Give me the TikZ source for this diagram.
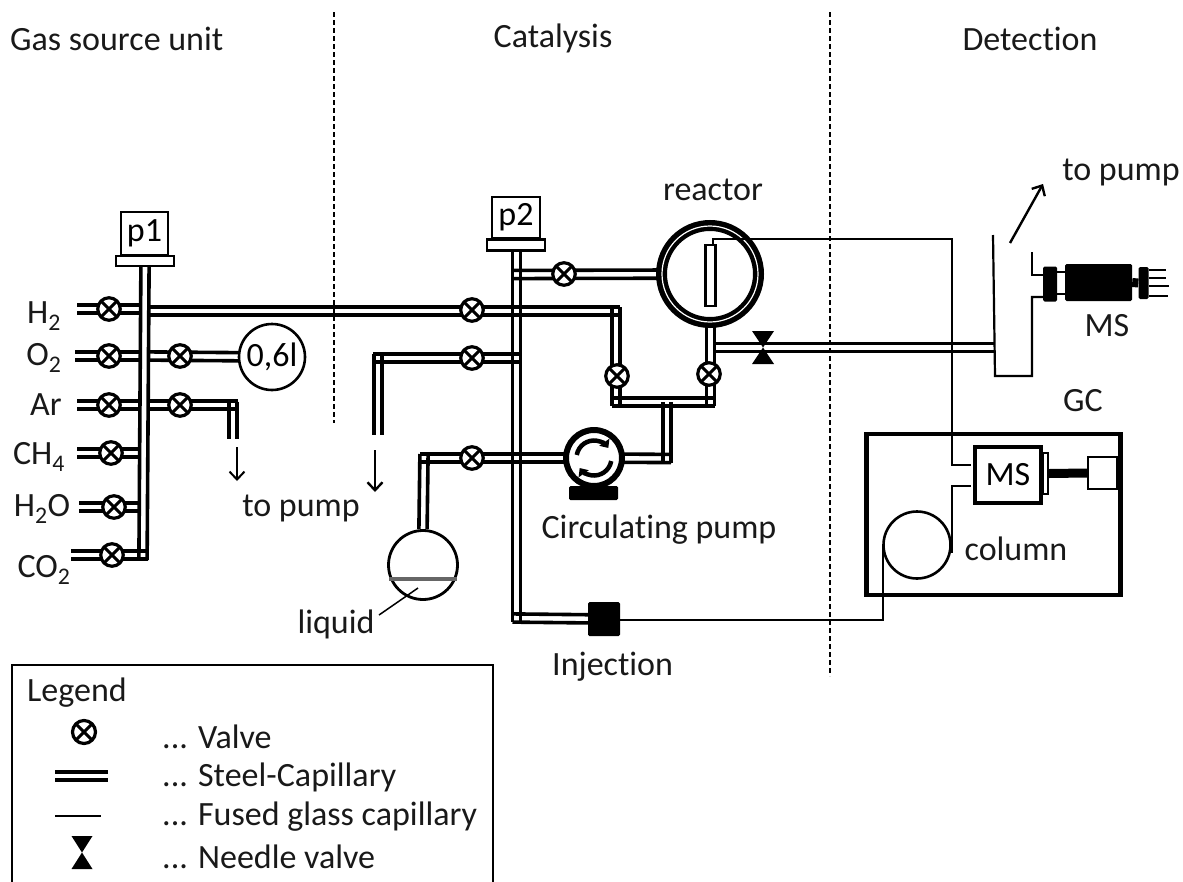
\documentclass[tikz,border=0pt]{standalone}
\usepackage{fontspec}
\setmainfont[Ligatures={NoCommon}]{Carlito}
\usetikzlibrary{arrows.meta,backgrounds,calc}
\tikzset{
  x=1pt,y=-1pt,
  hpipe/.style={line width=3.6pt,draw=none,
    postaction={draw=black,transform canvas={yshift=4.1pt}},
    postaction={draw=black,transform canvas={yshift=-4.1pt}}},
  vpipe/.style={line width=3.6pt,draw=none,
    postaction={draw=black,transform canvas={xshift=4.1pt}},
    postaction={draw=black,transform canvas={xshift=-4.1pt}}},
  fused/.style={draw=black,line width=2.2pt},
  valve/.style={circle,draw=black,fill=white,line width=3.2pt,minimum size=22.5pt,inner sep=0pt,
    path picture={\draw[line width=3pt]
      ($(path picture bounding box.north west)!0.15!(path picture bounding box.south east)$) --
      ($(path picture bounding box.north west)!0.85!(path picture bounding box.south east)$)
      ($(path picture bounding box.north east)!0.15!(path picture bounding box.south west)$) --
      ($(path picture bounding box.north east)!0.85!(path picture bounding box.south west)$);}},
  needle/.style={inner sep=0pt,minimum width=22pt,minimum height=33pt,
    path picture={\fill[black]
      (path picture bounding box.north west) -- (path picture bounding box.north east)
      -- (path picture bounding box.south west) -- (path picture bounding box.south east) -- cycle;}},
  lbl/.style={font=\fontsize{34}{34}\selectfont,inner sep=0pt,text=black!90},
  gauge/.style={draw=black,fill=white,line width=2.8pt,inner sep=0pt,font=\fontsize{34}{34}\selectfont},
  flange/.style={draw=black,fill=white,line width=2.8pt,inner sep=0pt},
  solid block/.style={fill=black,draw=none,rounded corners=1.5pt,inner sep=0pt},
  divider/.style={draw=black,line width=1.4pt,dash pattern=on 5pt off 3pt},
  flow/.style={-{Straight Barb[length=8pt,width=15pt]},line width=2.4pt},
}
\begin{document}
\begin{tikzpicture}
\useasboundingbox (0,0) rectangle (1183,881);

% titles
\node[lbl,anchor=west] at (10,39) {Gas source unit};
\node[lbl] at (553,38) {Catalysis};
\node[lbl] at (1030,39) {Detection};
\draw[divider] (334,12) -- (334,423);
\draw[divider] (830,12) -- (830,676);

% gas labels
\node[lbl] at (44,316) {H\textsubscript{2}};
\node[lbl] at (44,358) {O\textsubscript{2}};
\node[lbl] at (46,405) {Ar};
\node[lbl] at (39,457) {CH\textsubscript{4}};
\node[lbl] at (42,509) {H\textsubscript{2}O};
\node[lbl] at (44,570) {CO\textsubscript{2}};

% pressure gauges
\node[flange,minimum width=58pt,minimum height=10pt] (f1) at (145,261) {};
\node[gauge,minimum width=47pt,minimum height=43pt] (p1) at (144.5,233.5) {p1};
\node[flange,minimum width=58pt,minimum height=11pt] (f2) at (516,245) {};
\node[gauge,minimum width=48pt,minimum height=41pt] (p2) at (516,217.5) {p2};

% valves
\node[valve] (vH) at (109,309) {};
\node[valve] (vO) at (109,356) {};
\node[valve] (vA) at (109,405) {};
\node[valve] (vC) at (111,453) {};
\node[valve] (vW) at (114,507) {};
\node[valve] (vK) at (112,555) {};
\node[valve] (vO2) at (180,356) {};
\node[valve] (vA2) at (180,405) {};
\node[valve] (vH2) at (472,310) {};
\node[valve] (vM) at (472,358) {};
\node[valve] (vL) at (472,458) {};
\node[valve] (vR) at (564,274) {};
\node[valve] (vP) at (617,376) {};
\node[valve] (vQ) at (709,374) {};
\node[needle] (nv) at (763,347.5) {};

% vessels
\node[circle,draw=black,fill=white,line width=2.6pt,minimum size=66pt,inner sep=0pt,font=\fontsize{34}{34}\selectfont] (vol) at (272,357) {0,6l};
\node[circle,draw=black,fill=white,line width=2.8pt,minimum size=69pt,inner sep=0pt] (flask) at (423,565) {};
\node[circle,draw=black,fill=white,line width=11pt,minimum size=97pt,inner sep=0pt] (reactor) at (710,274) {};
\draw[white,line width=1.2pt] (reactor.center) circle[radius=48];
\node[draw=black,fill=white,line width=2.6pt,minimum width=10pt,minimum height=61pt,inner sep=0pt] (tube) at (710.5,275.5) {};
\node[circle,draw=black,fill=white,line width=6pt,minimum size=56pt,inner sep=0pt] (pump) at (594,458) {};
\draw[line width=4.5pt,-{Triangle[length=7pt,width=12pt]}] ([shift={(-170:17.5)}]pump.center) arc[start angle=-170,end angle=-35,radius=17.5];
\draw[line width=4.5pt,-{Triangle[length=7pt,width=12pt]}] ([shift={(10:17.5)}]pump.center) arc[start angle=10,end angle=145,radius=17.5];
\node[solid block,minimum width=49pt,minimum height=14pt] (pbase) at (593.5,493) {};
\node[solid block,minimum width=32pt,minimum height=34pt] (inj) at (604,619) {};

% junction coordinates
\coordinate (a1) at (145,266);  \coordinate (a2) at (143,560);
\coordinate (hL) at (77,309);   \coordinate (hE) at (141,309);
\coordinate (oL) at (75,356);   \coordinate (oE) at (141,356);
\coordinate (aL) at (77,405);   \coordinate (aE) at (141,405);
\coordinate (cL) at (77,453);   \coordinate (cE) at (139,453);
\coordinate (wL) at (79,507);   \coordinate (wE) at (139,507);
\coordinate (kL) at (71,555);   \coordinate (kE) at (148,555);
\coordinate (oS) at (149,356);
\coordinate (aS) at (149,405);
\coordinate (aC) at (238,405);
\coordinate (aD) at (233,439);
\coordinate (aT) at (233,401.5);
\coordinate (hS) at (149,311);
\coordinate (hC) at (620,311);
\coordinate (hT) at (616,307);
\coordinate (hB) at (616,406);
\coordinate (bL) at (612,402);
\coordinate (bR) at (714.5,402);
\coordinate (qT) at (710.5,326);
\coordinate (qB) at (710.5,406);
\coordinate (mT) at (667,402);
\coordinate (mB) at (667,463);
\coordinate (rR) at (671,458.5);
\coordinate (lC) at (420,458);
\coordinate (lT) at (424,454);
\coordinate (b1) at (516.5,251);
\coordinate (b2) at (516.5,622);
\coordinate (bC) at (512.5,618);
\coordinate (uL) at (513,274.5);
\coordinate (mR) at (520,358);
\coordinate (mC) at (373,358);
\coordinate (mV) at (378,354);
\coordinate (mD) at (378,435);
\coordinate (nB) at (714,347.5);
\node[inner sep=0pt,minimum size=0pt] (chamberW) at (995,347.5) {};

\begin{scope}[on background layer]
  % gas source manifold
  \path[hpipe] (hL) -- (hE);
  \path[hpipe] (oL) -- (oE);
  \path[hpipe] (aL) -- (aE);
  \path[hpipe] (cL) -- (cE);
  \path[hpipe] (wL) -- (wE);
  \path[hpipe] (kL) -- (kE);
  \path[vpipe] (a1) -- (a2);
  \path[hpipe] (oS) -- (vol.center);
  \path[hpipe] (aS) -- (aC);
  \path[vpipe] (aT) -- (aD);
  % H2 feed
  \path[hpipe] (hS) -- (hC);
  \path[vpipe] (hT) -- (hB);
  \path[hpipe] (bL) -- (bR);
  \path[vpipe] (qT) -- (qB);
  \path[vpipe] (mT) -- (mB);
  \path[hpipe] (pump.center) -- (rR);
  \path[hpipe] (lC) -- (pump.center);
  \path[vpipe] (lT) -- (flask.north);
  % p2 line
  \path[vpipe] (b1) -- (b2);
  \path[hpipe] (bC) -- (inj.center);
  \path[hpipe] (uL) -- (reactor.center);
  \path[hpipe] (mC) -- (mR);
  \path[vpipe] (mV) -- (mD);
  \path[hpipe] (nB) -- (chamberW);
\end{scope}

% liquid level
\coordinate (lqL) at (389,579);
\coordinate (lqR) at (457,579);
\draw[draw=black!60,line width=4pt] (lqL) -- (lqR);
\node[lbl] (liq) at (336,624) {liquid};
\coordinate (lqA) at (418,588);
\coordinate (lqB) at (379,615);
\draw[line width=1.5pt] (lqA) -- (lqB);

% flow arrows
\coordinate (ar1a) at (237,447); \coordinate (ar1b) at (237,481);
\draw[flow,line width=2pt] (ar1a) -- (ar1b);
\coordinate (ar2a) at (375,450); \coordinate (ar2b) at (375,492);
\draw[flow] (ar2a) -- (ar2b);
\node[lbl] at (301,508) {to pump};
\node[lbl] at (713,190) {reactor};
\node[lbl] at (659,530) {Circulating pump};
\node[lbl,anchor=west] at (552,667) {Injection};
\node[lbl] at (1121,172) {to pump};
\node[lbl] at (1107,326) {MS};
\node[lbl] at (1083,401) {GC};
\node[lbl] at (1016,549) {column};

% detection chamber
\coordinate (c1) at (993,235); \coordinate (c2) at (995,376); \coordinate (c3) at (1032,376);
\coordinate (c4) at (1032,297); \coordinate (c5) at (1043,297);
\coordinate (c6) at (1032,252); \coordinate (c7) at (1032,275); \coordinate (c8) at (1043,275);
\draw[line width=2.2pt] (c1) -- (c2) -- (c3) -- (c4) -- (c5);
\draw[line width=2.2pt] (c6) -- (c7) -- (c8);
\coordinate (ar3a) at (1010,243); \coordinate (ar3b) at (1043,184);
\draw[flow] (ar3a) -- (ar3b);

% mass spectrometer
\node[solid block,minimum width=14pt,minimum height=35pt] (msA) at (1050,284) {};
\node[solid block,minimum width=67pt,minimum height=37pt] (msB) at (1098.5,282.5) {};
\node[solid block,minimum width=10pt,minimum height=32pt] (msC) at (1143.5,283) {};
\draw[line width=2pt] (msA.east |- 0,272) -- (msB.west |- 0,272);
\draw[line width=2pt] (msA.east |- 0,294) -- (msB.west |- 0,294);
\draw[line width=9pt] (msB.east) -- (msC.west);
\foreach \yy/\xx in {270/1166,278/1166,286/1169,296/1168}
  \draw[line width=1.6pt] (msC.east |- 0,\yy) -- (\xx,\yy);

% GC oven
\node[draw=black,line width=4.6pt,minimum width=254pt,minimum height=161pt,inner sep=0pt] (gc) at (993.5,514.5) {};
\node[draw=black,fill=white,line width=4.4pt,minimum width=66pt,minimum height=56pt,inner sep=0pt,font=\fontsize{34}{34}\selectfont] (gms) at (1008,475) {MS};
\node[draw=black,fill=white,line width=2pt,minimum width=5pt,minimum height=41pt,inner sep=0pt] (gside) at (1045.5,473.5) {};
\node[draw=black,fill=white,line width=2.4pt,minimum width=30pt,minimum height=32pt,inner sep=0pt] (gdet) at (1103,473) {};
\fill[black] (1116,457) rectangle (1119,489);
\draw[line width=9pt] (gside.east) -- (gdet.west);
\node[circle,draw=black,line width=2.6pt,minimum size=67pt,inner sep=0pt] (col) at (917,545) {};

% fused capillaries
\coordinate (t1) at (713,245.5);
\coordinate (t2) at (713,239);
\coordinate (t3) at (952,239);
\coordinate (t4) at (952,465);
\coordinate (t5) at (971,465);
\draw[fused] (t1) -- (t2) -- (t3) -- (t4) -- (t5);
\coordinate (u1) at (971,486);
\coordinate (u2) at (952,486);
\coordinate (u3) at (952,553);
\draw[fused] (u1) -- (u2) -- (u3);
\coordinate (w1) at (883,545);
\coordinate (w2) at (883,620);
\draw[fused] (inj.east |- w2) -- (w2) -- (w1);

% legend
\draw[draw=black,line width=2.8pt] (12,885) -- (12,665) -- (493,665) -- (493,885);
\node[lbl,anchor=west] at (27,693) {Legend};
\node[valve,minimum size=23pt] (lv) at (84,732) {};
\coordinate (ls1) at (55,776); \coordinate (ls2) at (108,776);
\path[hpipe] (ls1) -- (ls2);
\coordinate (lf1) at (55,816); \coordinate (lf2) at (101,816);
\draw[fused] (lf1) -- (lf2);
\node[needle,minimum width=21pt,minimum height=33pt] (ln) at (82,852.5) {};
\node[lbl,anchor=west] at (162,737) {... Valve};
\node[lbl,anchor=west] at (162,777) {... Steel-Capillary};
\node[lbl,anchor=west] at (162,817) {... Fused glass capillary};
\node[lbl,anchor=west] at (162,857) {... Needle valve};
\end{tikzpicture}
\end{document}
